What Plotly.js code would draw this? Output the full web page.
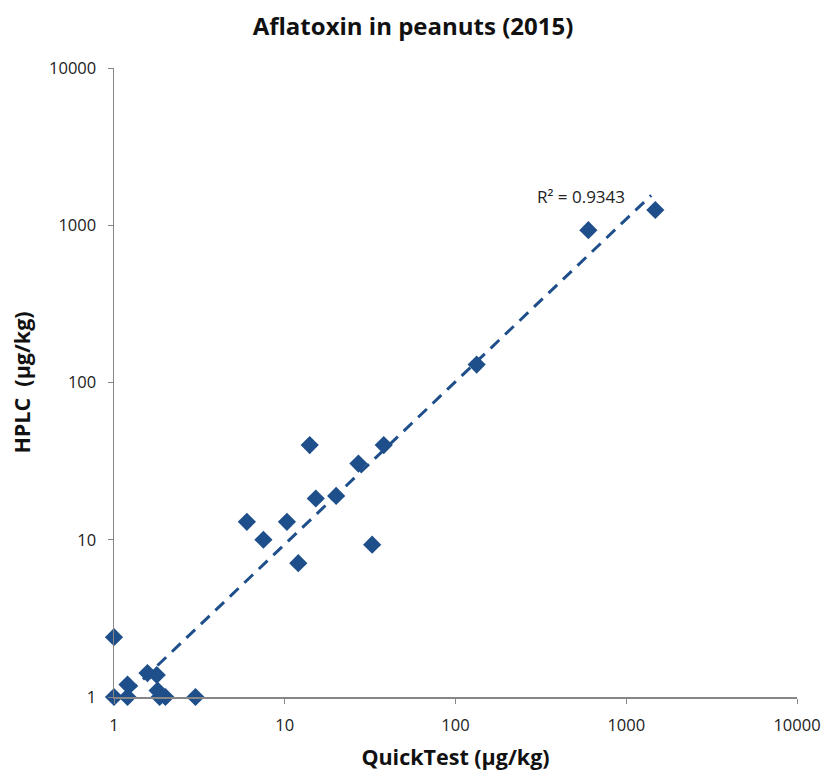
<!DOCTYPE html>
<html>
<head>
<meta charset="utf-8">
<script src="https://cdn.plot.ly/plotly-3.0.1.min.js"></script>
<style>html,body{margin:0;padding:0;background:#fff;}#chart{width:826px;height:773px;}</style>
</head>
<body>
<div id="chart"></div>
<script>
// Data
const quickTest = [1, 1, 1.2, 1.2, 1.57, 1.78, 1.8, 1.85, 2.0, 3.0, 6.0, 7.5, 10.3, 12, 14, 15.2, 20, 27, 32.5, 38, 133, 600, 1480];
const hplc      = [2.4, 1, 1.2, 1, 1.42, 1.38, 1.1, 1, 1, 1, 13, 10, 13, 7.1, 40, 18.3, 19, 30.5, 9.3, 40, 130, 930, 1250];

// Power trendline shown in the reference (y = a * x^b), R² label
const trendA = 0.865;
const trendB = 1.034;
const r2Label = "R² = 0.9343";
const trendX = [1, 1.5, 2, 3, 5, 10, 20, 50, 100, 200, 500, 1000, 1400];
const trendY = trendX.map(x => trendA * Math.pow(x, trendB));

const tickVals = [1, 10, 100, 1000, 10000];
const tickText = ["1", "10", "100", "1000", "10000"];

const font = "Open Sans, Liberation Sans, sans-serif";
const blue = "#1f4f8b";

const traces = [
  {
    x: trendX, y: trendY, type: "scatter", mode: "lines",
    line: {color: blue, width: 3, dash: "12px,8px"},
    hoverinfo: "skip", showlegend: false
  },
  {
    x: quickTest, y: hplc, type: "scatter", mode: "markers",
    marker: {symbol: "diamond", size: 14, color: blue},
    cliponaxis: false,
    showlegend: false
  }
];

const axisCommon = {
  type: "log",
  showgrid: false,
  zeroline: false,
  showline: true,
  linecolor: "#868686",
  linewidth: 1.5,
  ticks: "outside",
  ticklen: 5,
  tickcolor: "#868686",
  tickvals: tickVals,
  ticktext: tickText,
  tickfont: {family: font, size: 16.5, color: "#222"},
  range: [0, 4]
};

const layout = {
  width: 826, height: 773,
  margin: {l: 114, r: 29, t: 68, b: 76},
  paper_bgcolor: "#fff", plot_bgcolor: "#fff",
  title: {text: "<b>Aflatoxin in peanuts (2015)</b>", x: 0.5, xanchor: "center", y: 0.965, yanchor: "middle",
          font: {family: font, size: 24, color: "#111"}},
  xaxis: Object.assign({}, axisCommon, {
    ticklabelstandoff: 8,
    title: {text: "<b>QuickTest (µg/kg)</b>", font: {family: font, size: 21.5, color: "#111"}, standoff: 14}
  }),
  yaxis: Object.assign({}, axisCommon, {
    ticklabelstandoff: 8,
    title: {text: "<b>HPLC  (µg/kg)</b>", font: {family: font, size: 21.5, color: "#111"}, standoff: 12}
  }),
  annotations: [{
    x: Math.log10(545), y: Math.log10(1530), xref: "x", yref: "y",
    text: r2Label, showarrow: false, xanchor: "center", yanchor: "middle",
    font: {family: font, size: 17, color: "#222"}
  }]
};

Plotly.newPlot("chart", traces, layout, {displayModeBar: false, staticPlot: true});
</script>
</body>
</html>
